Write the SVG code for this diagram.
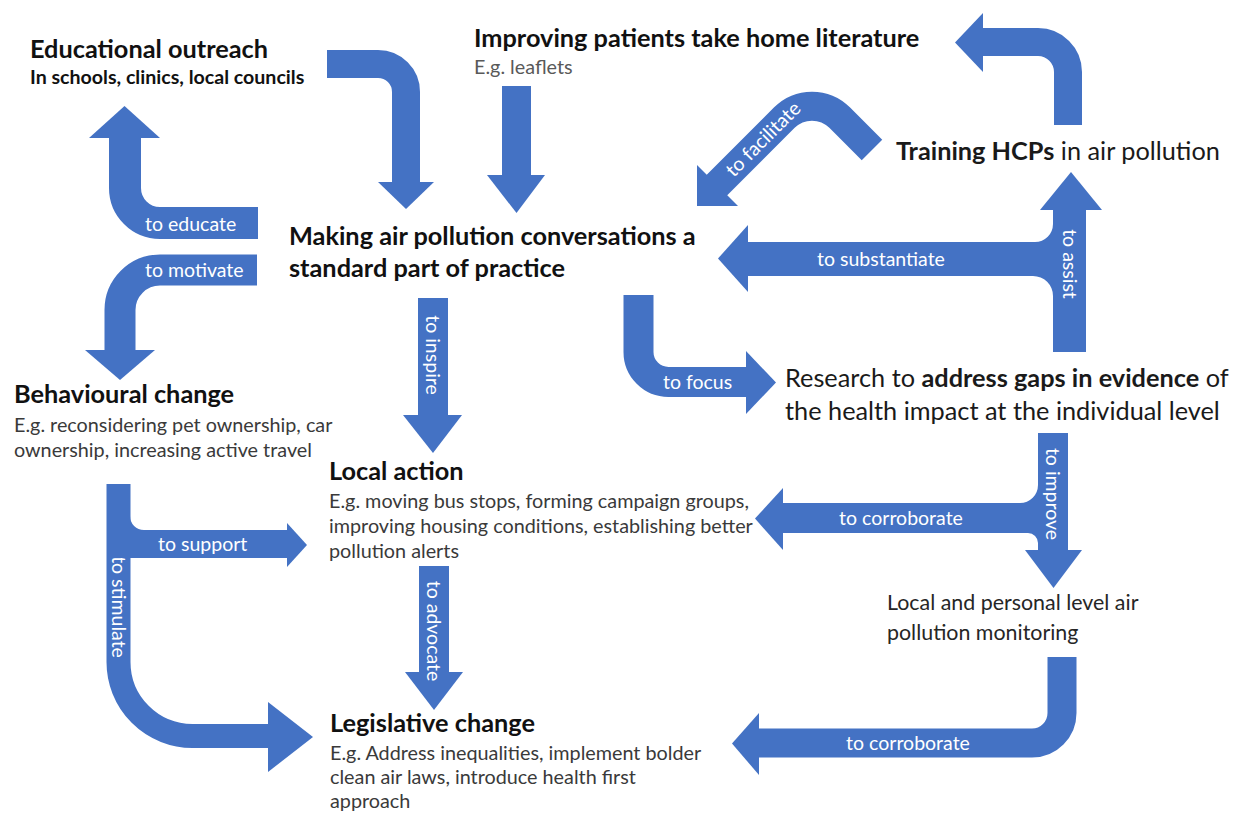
<svg xmlns="http://www.w3.org/2000/svg" width="1244" height="814" viewBox="0 0 1244 814">
  <style>
    .shaft { fill: none; stroke: #4472C4; stroke-width: 30; }
    .blue { fill: #4472C4; }
    .lbl { font-family: Lato, "Open Sans", sans-serif; font-size: 19.5px; fill: #ffffff; }
    .title { font-family: Lato, "Open Sans", sans-serif; font-size: 25.3px; font-weight: bold; fill: #111111; }
    .main { font-family: Lato, "Open Sans", sans-serif; font-size: 25.3px; fill: #1a1a1a; }
    .sub { font-family: Lato, "Open Sans", sans-serif; font-size: 19.8px; fill: #3a3a3a; }
    .b { font-weight: bold; }
  </style>
  <rect width="1244" height="814" fill="#ffffff"/>

  <g id="connectors">
    <!-- outreach -> practice -->
    <path class="shaft" style="stroke-width:28" d="M327,64 H378 A28,28 0 0 1 406,92 V183"/>
    <polygon class="blue" points="378,182 434,182 406,209"/>

    <!-- literature -> practice -->
    <path class="shaft" style="stroke-width:29" d="M516.5,86 V176"/>
    <polygon class="blue" points="487,175 545,175 516.5,213"/>

    <!-- practice -> outreach : to educate -->
    <path class="shaft" style="stroke-width:32" d="M258,223 H160 A35,35 0 0 1 125,188 V137"/>
    <polygon class="blue" points="89,138 160,138 124.5,106"/>
    <text class="lbl" x="145" y="231">to educate</text>

    <!-- practice -> behaviour : to motivate -->
    <path class="shaft" style="stroke-width:31" d="M257,270 H160 A40,40 0 0 0 120,310 V351"/>
    <polygon class="blue" points="85,350 155,350 120,380"/>
    <text class="lbl" x="145" y="277">to motivate</text>

    <!-- behaviour -> legislative : to stimulate -->
    <path class="shaft" style="stroke-width:24" d="M118.5,484 V662 A74,74 0 0 0 192.5,736 H269"/>
    <polygon class="blue" points="268,702 268,772 313,737"/>
    <text class="lbl" transform="translate(118.5,607) rotate(90)" text-anchor="middle" dy="6.8">to stimulate</text>

    <!-- behaviour -> local action : to support -->
    <path class="shaft" style="stroke-width:28" d="M120,544 H288"/>
    <path class="blue" d="M130,516 A14,14 0 0 0 144,530 L130,530 Z"/>
    <polygon class="blue" points="287,523 287,567 307,545"/>
    <text class="lbl" x="158" y="551">to support</text>

    <!-- practice -> local action : to inspire -->
    <path class="shaft" d="M433,298 V416"/>
    <polygon class="blue" points="403,415 462,415 433,453"/>
    <text class="lbl" transform="translate(433,355) rotate(90)" text-anchor="middle" dy="6.8">to inspire</text>

    <!-- local action -> legislative : to advocate -->
    <path class="shaft" d="M434,566 V673"/>
    <polygon class="blue" points="405,672 463,672 434,710"/>
    <text class="lbl" transform="translate(434,631) rotate(90)" text-anchor="middle" dy="6.8">to advocate</text>

    <!-- practice -> research : to focus -->
    <path class="shaft" d="M638.5,295 V352 A30,30 0 0 0 668.5,382 H747"/>
    <polygon class="blue" points="746,351 746,414 776,382.5"/>
    <text class="lbl" x="663" y="389">to focus</text>

    <!-- research -> practice : to substantiate / research -> training : to assist -->
    <path class="shaft" style="stroke-width:34" d="M747,259 H1060"/>
    <path class="blue" d="M1053,224 A18,18 0 0 1 1035,242 L1053,242 Z"/>
    <path class="blue" d="M1053,296 A20,20 0 0 0 1033,276 L1053,276 Z"/>
    <polygon class="blue" points="748,225 748,292 718,258.5"/>
    <text class="lbl" x="817" y="266">to substantiate</text>
    <path class="shaft" style="stroke-width:33" d="M1069.5,352 V209"/>
    <polygon class="blue" points="1040,210 1102,210 1071,172"/>
    <text class="lbl" transform="translate(1070,264) rotate(90)" text-anchor="middle" dy="6.8">to assist</text>

    <!-- training -> literature -->
    <path class="shaft" style="stroke-width:28" d="M1068,125 V72 A30,30 0 0 0 1038,42 H982"/>
    <polygon class="blue" points="983,13 983,72 955,42.5"/>

    <!-- training -> practice : to facilitate -->
    <path class="shaft" style="stroke-width:29" d="M872,150 L839.6,117.6 A39,39 0 0 0 784.4,117.6 L716,186"/>
    <polygon class="blue" points="697,165 697,206 738,206"/>
    <text class="lbl" transform="translate(763,139) rotate(-45)" text-anchor="middle" dy="6.8">to facilitate</text>

    <!-- research -> monitoring : to improve / research -> local action : to corroborate -->
    <path class="shaft" d="M1053,433 V551"/>
    <polygon class="blue" points="1025,550 1082,550 1053.5,588"/>
    <text class="lbl" transform="translate(1053,494) rotate(90)" text-anchor="middle" dy="6.8">to improve</text>
    <path class="shaft" d="M782,518 H1045"/>
    <path class="blue" d="M1038,485 A18,18 0 0 1 1020,503 L1038,503 Z"/>
    <path class="blue" d="M1038,543 A10,10 0 0 0 1028,533 L1038,533 Z"/>
    <polygon class="blue" points="783,488 783,550 755,518.5"/>
    <text class="lbl" x="901" y="525" text-anchor="middle">to corroborate</text>

    <!-- monitoring -> legislative : to corroborate -->
    <path class="shaft" style="stroke-width:29" d="M1062,657 V713 A30,30 0 0 1 1032,743 H758"/>
    <polygon class="blue" points="759,713 759,775 732,743.5"/>
    <text class="lbl" x="908" y="750" text-anchor="middle">to corroborate</text>
  </g>

  <g id="outreach">
    <text class="title" x="30" y="58">Educational outreach</text>
    <text class="title" x="30" y="84" style="font-size:19.6px">In schools, clinics, local councils</text>
  </g>

  <g id="literature">
    <text class="title" x="474" y="47">Improving patients take home literature</text>
    <text class="sub" x="474" y="74" style="fill:#595959">E.g. leaflets</text>
  </g>

  <g id="training">
    <text class="main" x="896" y="160"><tspan class="b">Training HCPs</tspan> in air pollution</text>
  </g>

  <g id="practice">
    <text class="title" x="289" y="245">Making air pollution conversations a</text>
    <text class="title" x="289" y="277">standard part of practice</text>
  </g>

  <g id="behaviour">
    <text class="title" x="14" y="403">Behavioural change</text>
    <text class="sub" x="14" y="432">E.g. reconsidering pet ownership, car</text>
    <text class="sub" x="14" y="457">ownership, increasing active travel</text>
  </g>

  <g id="research">
    <text class="main" x="785" y="387">Research to <tspan class="b">address gaps in evidence</tspan> of</text>
    <text class="main" x="785" y="420">the health impact at the individual level</text>
  </g>

  <g id="local-action">
    <text class="title" x="329" y="480">Local action</text>
    <text class="sub" x="329" y="508">E.g. moving bus stops, forming campaign groups,</text>
    <text class="sub" x="329" y="533">improving housing conditions, establishing better</text>
    <text class="sub" x="329" y="558">pollution alerts</text>
  </g>

  <g id="monitoring">
    <text class="sub" x="887" y="610" style="font-size:21.4px;fill:#262626">Local and personal level air</text>
    <text class="sub" x="887" y="640" style="font-size:21.4px;fill:#262626">pollution monitoring</text>
  </g>

  <g id="legislative">
    <text class="title" x="330" y="732">Legislative change</text>
    <text class="sub" x="330" y="760">E.g. Address inequalities, implement bolder</text>
    <text class="sub" x="330" y="784">clean air laws, introduce health first</text>
    <text class="sub" x="330" y="808">approach</text>
  </g>
</svg>
